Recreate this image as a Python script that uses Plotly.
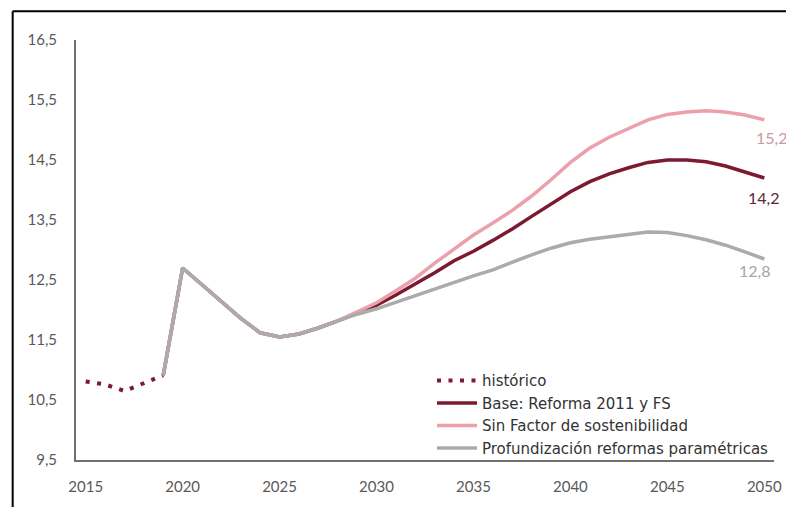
import plotly.graph_objects as go

years_hist = [2015, 2016, 2017, 2018, 2019]
hist_vals = [10.81, 10.76, 10.65, 10.78, 10.91]

years_proj = list(range(2019, 2051))
common = [10.91, 12.70, 12.42, 12.14, 11.86, 11.62, 11.55, 11.60, 11.70, 11.82]
base_tail = [11.95, 12.08, 12.25, 12.43, 12.62, 12.82, 12.98, 13.16, 13.35, 13.56, 13.77,
             13.97, 14.14, 14.27, 14.37, 14.46, 14.50, 14.50, 14.47, 14.40, 14.30, 14.20]
sinfs_tail = [11.97, 12.12, 12.32, 12.53, 12.78, 13.02, 13.25, 13.45, 13.66, 13.90, 14.17,
              14.46, 14.70, 14.88, 15.03, 15.17, 15.26, 15.30, 15.32, 15.30, 15.25, 15.17]
prof_tail = [11.93, 12.02, 12.13, 12.25, 12.36, 12.47, 12.57, 12.67, 12.80, 12.92, 13.03,
             13.12, 13.18, 13.22, 13.27, 13.30, 13.29, 13.24, 13.17, 13.08, 12.97, 12.85]
base_vals = common + base_tail
sinfs_vals = common + sinfs_tail
prof_vals = common + prof_tail

series_names = ["histórico", "Base: Reforma 2011 y FS", "Sin Factor de sostenibilidad",
                "Profundización reformas paramétricas"]
end_labels = ["14,2", "15,2", "12,8"]

y_ticks = [9.5, 10.5, 11.5, 12.5, 13.5, 14.5, 15.5, 16.5]
y_ticktext = ["9,5", "10,5", "11,5", "12,5", "13,5", "14,5", "15,5", "16,5"]
x_ticks = [2015, 2020, 2025, 2030, 2035, 2040, 2045, 2050]

C_HIST = "#7B1A30"
C_BASE = "#7B1A30"
C_SIN = "#EBA0AC"
C_PROF = "#ABABAB"

fig = go.Figure()
fig.add_trace(go.Scatter(x=years_hist, y=hist_vals, mode="lines", name=series_names[0],
                         line=dict(color=C_HIST, width=4, dash="4px,7.5px")))
fig.add_trace(go.Scatter(x=years_proj, y=base_vals, mode="lines", name=series_names[1],
                         line=dict(color=C_BASE, width=3.5)))
fig.add_trace(go.Scatter(x=years_proj, y=sinfs_vals, mode="lines", name=series_names[2],
                         line=dict(color=C_SIN, width=3.5)))
fig.add_trace(go.Scatter(x=years_proj, y=prof_vals, mode="lines", name=series_names[3],
                         line=dict(color=C_PROF, width=3.5)))

lab_font = "Lato, 'Open Sans', sans-serif"
fig.add_annotation(x=years_proj[-1], y=sinfs_vals[-1], text=end_labels[1], showarrow=False,
                   xanchor="left", yanchor="top", xshift=-10, yshift=-6,
                   font=dict(family=lab_font, size=16, color="#C99AA3"))
fig.add_annotation(x=years_proj[-1], y=base_vals[-1], text=end_labels[0], showarrow=False,
                   xanchor="left", yanchor="top", xshift=-18, yshift=-8,
                   font=dict(family=lab_font, size=16, color="#5E2634"))
fig.add_annotation(x=years_proj[-1], y=prof_vals[-1], text=end_labels[2], showarrow=False,
                   xanchor="left", yanchor="top", xshift=-27, yshift=0,
                   font=dict(family=lab_font, size=16, color="#A6A6A6"))

# page body adds an 8px offset; figure fills the rest of the window
OFF = 8
FW, FH = 794 - OFF, 507 - OFF
L, T, W, H = 76 - OFF, 40 - OFF, 700, 422


def px(x):
    return (x - OFF - L) / W


def py(y):
    return (T + H - (y - OFF)) / H


# outer black frame (screenshot border)
fig.add_shape(type="line", xref="paper", yref="paper", x0=px(12.5), x1=px(12.5), y0=py(11), y1=py(515),
              line=dict(color="black", width=2))
fig.add_shape(type="line", xref="paper", yref="paper", x0=px(12.5), x1=px(800), y0=py(11), y1=py(11),
              line=dict(color="black", width=2))

fig.update_layout(
    width=FW, height=FH,
    margin=dict(l=L, r=FW - L - W, t=T, b=FH - T - H),
    paper_bgcolor="white", plot_bgcolor="white",
    font=dict(family=lab_font, color="#595959"),
    showlegend=True,
    legend=dict(x=1.0, y=-0.01, xanchor="right", yanchor="bottom",
                bgcolor="rgba(0,0,0,0)",
                font=dict(family="'DejaVu Sans', sans-serif", size=15, color="#333333"),
                tracegroupgap=0, itemwidth=40),
    xaxis=dict(range=[2014.5, 2050.5], tickvals=x_ticks, ticktext=[str(v) for v in x_ticks],
               showgrid=False, zeroline=False, showline=True, linecolor="#707070", linewidth=2,
               ticks="", ticklabelstandoff=12, tickfont=dict(size=15, color="#595959")),
    yaxis=dict(range=[9.5, 16.5], tickvals=y_ticks, ticktext=y_ticktext,
               showgrid=False, zeroline=False, showline=True, linecolor="#707070", linewidth=2,
               ticks="", ticklabelstandoff=14, tickfont=dict(size=15, color="#595959")),
)

fig.write_html("out.html")
